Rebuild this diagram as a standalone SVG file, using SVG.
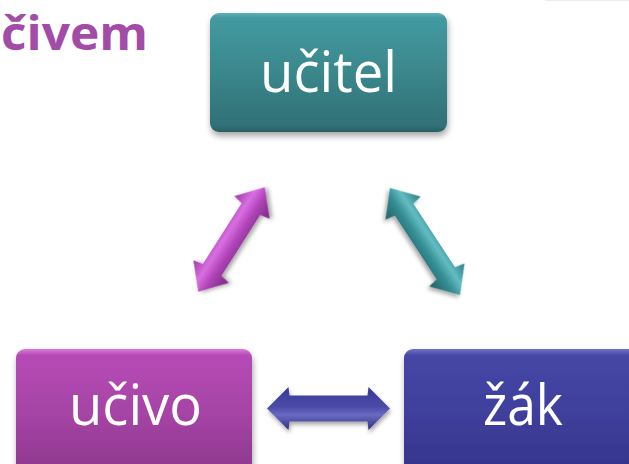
<svg xmlns="http://www.w3.org/2000/svg" width="629" height="464" viewBox="0 0 629 464">
<style>
.lbl{font-family:"Open Sans","Liberation Sans",sans-serif;font-size:56px;fill:#ffffff;text-anchor:middle}
.title{font-family:"Open Sans","Liberation Sans",sans-serif;font-weight:bold;font-size:46px;fill:#a24ca8}
</style>
<defs>
<filter id="sh" x="-20%" y="-20%" width="140%" height="150%">
<feDropShadow dx="1" dy="4" stdDeviation="3" flood-color="#000" flood-opacity="0.35"/>
</filter>
<filter id="ash" x="-30%" y="-30%" width="160%" height="160%">
<feDropShadow dx="1" dy="3" stdDeviation="2" flood-color="#000" flood-opacity="0.35"/>
</filter>
<linearGradient id="gTeal" x1="0" y1="0" x2="0" y2="1">
<stop offset="0" stop-color="#5fb2b8"/>
<stop offset="0.04" stop-color="#439aa0"/>
<stop offset="0.5" stop-color="#3a878c"/>
<stop offset="0.95" stop-color="#307076"/>
<stop offset="1" stop-color="#285f63"/>
</linearGradient>
<linearGradient id="gPink" x1="0" y1="0" x2="0" y2="1">
<stop offset="0" stop-color="#d87ad8"/>
<stop offset="0.05" stop-color="#b64ab6"/>
<stop offset="0.5" stop-color="#a544a5"/>
<stop offset="1" stop-color="#8a378a"/>
</linearGradient>
<linearGradient id="gBlue" x1="0" y1="0" x2="0" y2="1">
<stop offset="0" stop-color="#7272c8"/>
<stop offset="0.05" stop-color="#4646a6"/>
<stop offset="0.5" stop-color="#3f3f9c"/>
<stop offset="1" stop-color="#33338a"/>
</linearGradient>
<linearGradient id="aPink" x1="0" y1="0" x2="0" y2="1">
<stop offset="0" stop-color="#9a3aa2"/>
<stop offset="0.35" stop-color="#d96ee2"/>
<stop offset="0.6" stop-color="#b044b8"/>
<stop offset="1" stop-color="#762a7e"/>
</linearGradient>
<linearGradient id="aTeal" x1="0" y1="0" x2="0" y2="1">
<stop offset="0" stop-color="#2a7c82"/>
<stop offset="0.35" stop-color="#62bcc2"/>
<stop offset="0.6" stop-color="#348e94"/>
<stop offset="1" stop-color="#235f64"/>
</linearGradient>
<linearGradient id="aBlue" x1="0" y1="0" x2="0" y2="1">
<stop offset="0" stop-color="#3a3a94"/>
<stop offset="0.45" stop-color="#4a4aa8"/>
<stop offset="0.65" stop-color="#6a6ac2"/>
<stop offset="1" stop-color="#2e2e80"/>
</linearGradient>
</defs>

<rect x="545" y="0" width="84" height="1" fill="#eeeeee"/>

<text class="title" x="1" y="50" textLength="147" lengthAdjust="spacingAndGlyphs">čivem</text>

<g id="connectors">
<polygon id="arrow-ucivo-ucitel" filter="url(#ash)" fill="url(#aPink)" transform="translate(231.5 239.5) rotate(-57.5)"
 points="-62,0 -38,-21 -36,-11 36,-11 38,-21 62,0 38,21 36,11 -36,11 -38,21"/>
<polygon id="arrow-ucitel-zak" filter="url(#ash)" fill="url(#aTeal)" transform="translate(425 241.5) rotate(56.8)"
 points="-64,0 -40,-21 -38,-11 38,-11 40,-21 64,0 40,21 38,11 -38,11 -40,21"/>
<polygon id="arrow-ucivo-zak" filter="url(#ash)" fill="url(#aBlue)" transform="translate(328.5 408.5)"
 points="-61.5,0 -40,-21.5 -39,-13 39,-13 40,-21.5 61.5,0 40,21.5 39,13 -39,13 -40,21.5"/>
</g>

<g id="node-ucitel">
<rect x="210" y="13" width="237" height="119" rx="9" fill="url(#gTeal)" filter="url(#sh)"/>
<text class="lbl" x="328.5" y="92" textLength="137" lengthAdjust="spacingAndGlyphs">učitel</text>
</g>

<g id="node-ucivo">
<rect x="16" y="349" width="236" height="130" rx="9" fill="url(#gPink)" filter="url(#sh)"/>
<text class="lbl" x="135.5" y="425" textLength="133" lengthAdjust="spacingAndGlyphs">učivo</text>
</g>

<g id="node-zak">
<rect x="404" y="349" width="238" height="130" rx="9" fill="url(#gBlue)" filter="url(#sh)"/>
<text class="lbl" x="523" y="425" textLength="80" lengthAdjust="spacingAndGlyphs">žák</text>
</g>
</svg>
